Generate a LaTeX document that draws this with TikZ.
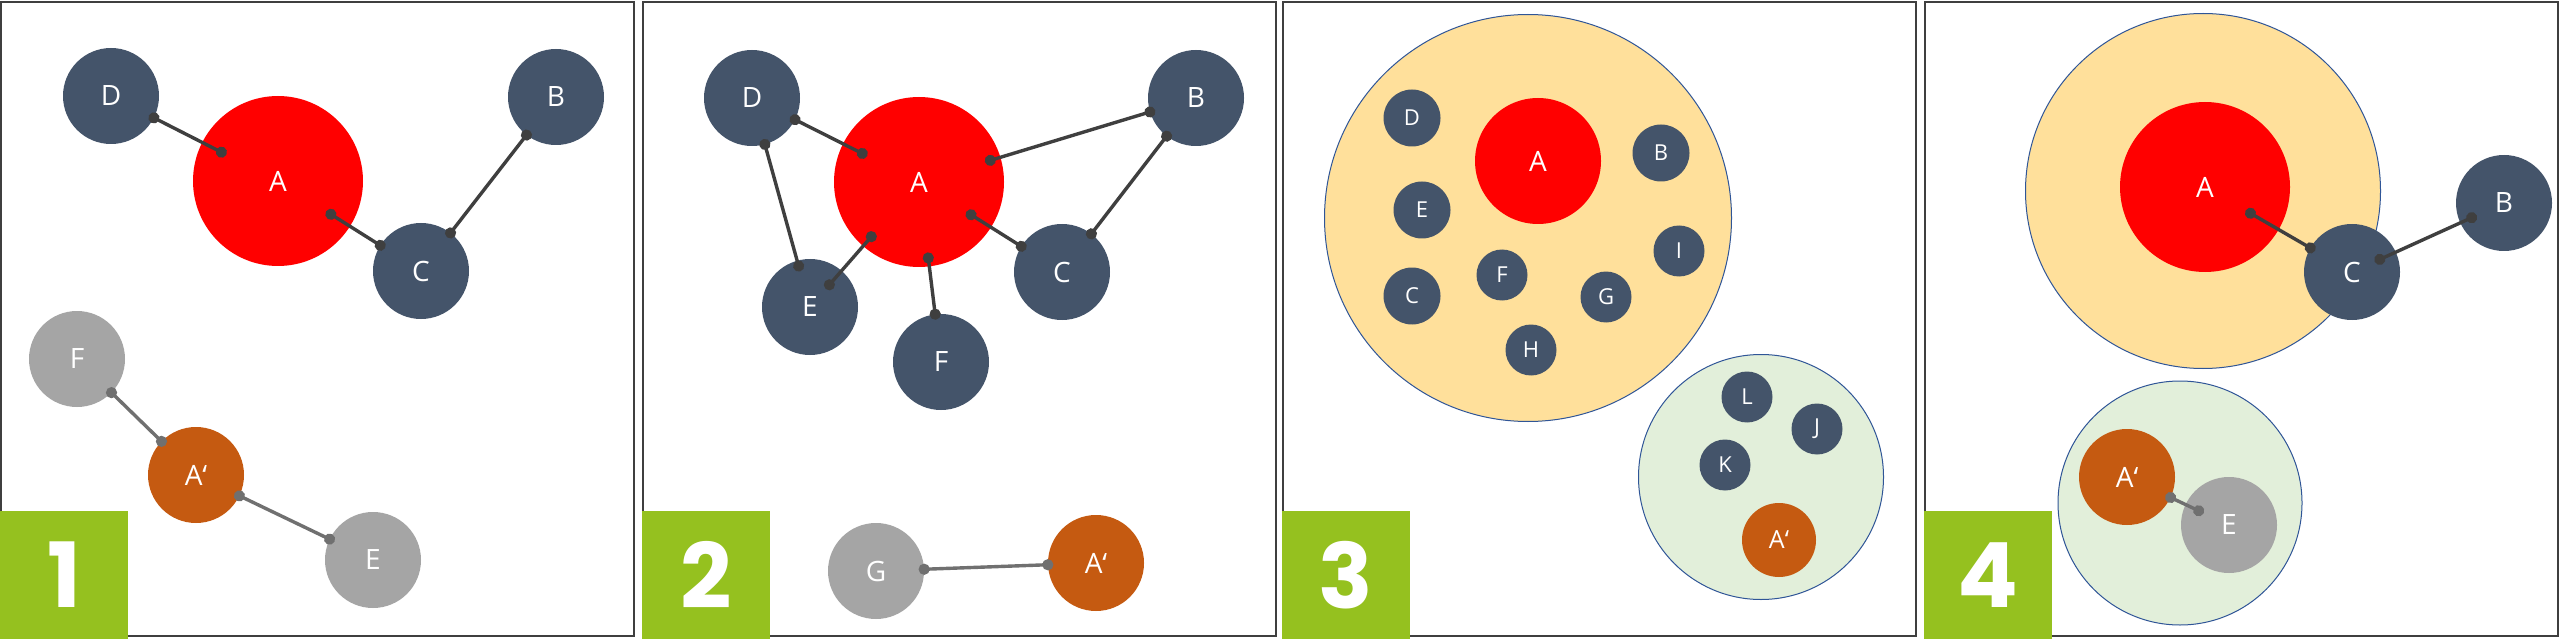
\documentclass[tikz,border=0pt]{standalone}
\usepackage{fontspec}
\setmainfont{Open Sans}
\newfontfamily\numfont{Poppins}
\usetikzlibrary{arrows.meta}
\definecolor{slate}{HTML}{44546A}
\definecolor{rust}{HTML}{C55A11}
\definecolor{ash}{HTML}{A5A5A5}
\definecolor{leaf}{HTML}{95C11F}
\definecolor{sand}{HTML}{FFE09B}
\definecolor{mint}{HTML}{E2EFDA}
\definecolor{rim}{HTML}{2F5597}
\definecolor{wire}{HTML}{3F3F3F}
\definecolor{pale}{HTML}{707070}
\tikzset{every node/.append style = {font=\fontsize{28}{30}\selectfont, text=white}}
\tikzset{member/.style = {circle, fill=slate, minimum size=96pt, inner sep=0pt}}
\tikzset{hub/.style = {circle, fill=red, minimum size=170pt, inner sep=0pt}}
\tikzset{twin/.style = {circle, fill=rust, minimum size=96pt, inner sep=0pt}}
\tikzset{faded/.style = {circle, fill=ash, minimum size=96pt, inner sep=0pt}}
\tikzset{small/.style = {minimum size=#1, font=\fontsize{22}{24}\selectfont}}
\tikzset{cluster/.style = {circle, draw=rim, line width=1pt, inner sep=0pt}}
\tikzset{frame/.style = {draw=wire, line width=2pt}}
\tikzset{tag/.style = {fill=leaf, minimum size=128pt, inner sep=0pt,
  anchor=south west, font=\numfont\bfseries\fontsize{90}{90}\selectfont}}
\tikzset{link/.style = {draw=wire, line width=3.4pt,
  arrows={Circle[length=11pt]-Circle[length=11pt]},
  shorten <=-5.5pt, shorten >=-5.5pt}}
\tikzset{grey/.style = {draw=pale}}

\begin{document}
\begin{tikzpicture}[x=1pt, y=-1pt]
  \useasboundingbox (0,0) rectangle (2560,639);
  \fill[white] (0,0) rectangle (2560,639);
  \foreach \x [count=\i] in {1,643,1283,1925} {
    \draw[frame] (\x,2.5) rectangle ++(633,633.5);
    \node[tag] (tag\i) at (\x-1,639) {\i};
  }
  % panel 1
  \node[hub]    (A1) at (278,181) {A};
  \node[member] (D1) at (111,96)  {D};
  \node[member] (B1) at (556,97)  {B};
  \node[member] (C1) at (421,271) {C};
  \node[faded]  (F1) at (77,359)  {F};
  \node[twin]   (T1) at (196,475) {A‘};
  \node[faded]  (E1) at (373,560) {E};
  \draw[link, shorten >=58pt] (D1) -- (A1.center);
  \draw[link, shorten <=57pt] (A1.center) -- (C1);
  \draw[link] (C1) -- (B1);
  \draw[link, grey] (F1) -- (T1);
  \draw[link, grey] (T1) -- (E1);
  % panel 2
  \node[hub]    (A2) at (919,182)  {A};
  \node[member] (D2) at (752,98)   {D};
  \node[member] (B2) at (1196,98)  {B};
  \node[member] (C2) at (1062,272) {C};
  \node[member] (E2) at (810,307)  {E};
  \node[member] (F2) at (941,362)  {F};
  \node[faded]  (G2) at (876,571)  {G};
  \node[twin]   (T2) at (1096,563) {A‘};
  \draw[link, shorten >=58pt] (D2) -- (A2.center);
  \draw[link, shorten <=69pt] (A2.center) -- (B2);
  \draw[link, shorten >=37pt] (D2) -- (E2.center);
  \draw[link, shorten <=67pt, shorten >=24pt] (A2.center) -- (E2.center);
  \draw[link, shorten <=71pt] (A2.center) -- (F2);
  \draw[link, shorten <=56pt] (A2.center) -- (C2);
  \draw[link] (C2) -- (B2);
  \draw[link, grey] (G2) -- (T2);
  % panel 3
  \node[cluster, fill=sand, minimum size=407pt] (O3) at (1528,218) {};
  \node[cluster, fill=mint, minimum size=245pt] (Q3) at (1761,477) {};
  \node[hub, minimum size=126pt] (A3) at (1538,161) {A};
  \node[member, small=57pt] (D3) at (1412,118) {D};
  \node[member, small=57pt] (B3) at (1661,153) {B};
  \node[member, small=57pt] (E3) at (1422,210) {E};
  \node[member, small=51pt] (I3) at (1679,251) {I};
  \node[member, small=51pt] (F3) at (1502,275) {F};
  \node[member, small=57pt] (C3) at (1412,296) {C};
  \node[member, small=51pt] (G3) at (1606,297) {G};
  \node[member, small=51pt] (H3) at (1531,350) {H};
  \node[member, small=51pt] (L3) at (1747,397) {L};
  \node[member, small=51pt] (J3) at (1817,429) {J};
  \node[member, small=51pt] (K3) at (1725,465) {K};
  \node[twin, minimum size=74pt, font=\fontsize{25}{27}\selectfont] (T3) at (1779,540) {A‘};
  % panel 4
  \node[cluster, fill=sand, minimum size=355pt] (O4) at (2203,191) {};
  \node[cluster, fill=mint, minimum size=244pt] (Q4) at (2180,503) {};
  \node[hub]    (A4) at (2205,187) {A};
  \node[member] (C4) at (2352,272) {C};
  \node[member] (B4) at (2504,203) {B};
  \node[twin]   (T4) at (2127,477) {A‘};
  \node[faded]  (E4) at (2229,525) {E};
  \draw[link, shorten <=47pt] (A4.center) -- (C4);
  \draw[link, shorten <=25pt, shorten >=30pt] (C4.center) -- (B4.center);
  \draw[link, grey, shorten >=28pt] (T4) -- (E4.center);
\end{tikzpicture}
\end{document}
